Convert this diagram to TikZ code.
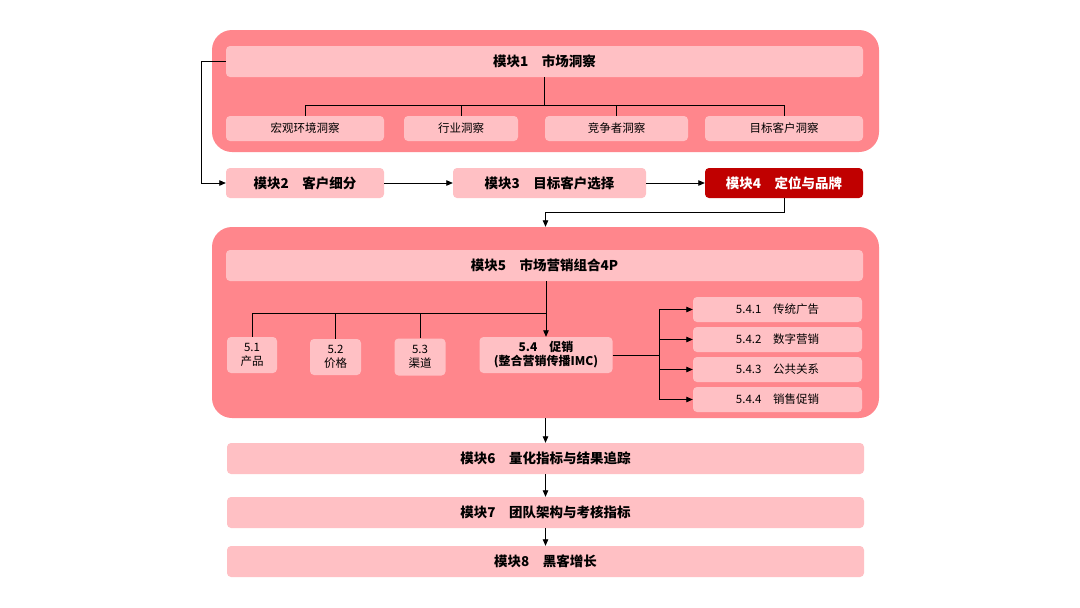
\documentclass[tikz,border=0pt]{standalone}
\usepackage{fontspec}
\newfontfamily\cjk{Noto Sans CJK SC}
\usetikzlibrary{arrows.meta}
\definecolor{outerc}{RGB}{255,134,140}
\definecolor{innerc}{RGB}{255,192,196}
\definecolor{darkc}{RGB}{192,0,0}
\tikzset{
  outerbox/.style={draw=none,fill=outerc,rounded corners=20pt,inner sep=0pt},
  bar/.style={draw=none,fill=innerc,rounded corners=4pt,inner sep=0pt,align=center,font=\cjk\bfseries\fontsize{13.5}{15}\selectfont,text=black},
  sub/.style={draw=none,fill=innerc,rounded corners=4pt,inner sep=0pt,align=center,font=\cjk\fontsize{11.5}{13.5}\selectfont,text=black},
  darkbar/.style={bar,fill=darkc,text=white},
  ln/.style={draw=black,line width=0.8pt},
  arr/.style={ln,-{Triangle[length=6.5pt,width=5.5pt]}}
}
\begin{document}
\begin{tikzpicture}[x=1pt,y=-1pt]
\useasboundingbox[fill=white] (0,0) rectangle (1080,608);
% Module 1
\node[outerbox,minimum width=667pt,minimum height=122pt] (outer1) at (545.5,91) {};
\node[bar,minimum width=637pt,minimum height=31pt] (m1) at (544.5,61.5) {模块1\quad 市场洞察};
\node[sub,minimum width=158pt,minimum height=25pt] (s1) at (305,128.5) {宏观环境洞察};
\node[sub,minimum width=114pt,minimum height=25pt] (s2) at (461,128.5) {行业洞察};
\node[sub,minimum width=143pt,minimum height=25pt] (s3) at (616.5,128.5) {竞争者洞察};
\node[sub,minimum width=158pt,minimum height=25pt] (s4) at (784,128.5) {目标客户洞察};
\coordinate (b1) at (544.5,105);
\draw[ln] (m1.south -| b1) -- (b1);
\draw[ln] (s1.north |- b1) -- (s4.north |- b1);
\foreach \s in {s1,s2,s3,s4} \draw[ln] (\s.north |- b1) -- (\s.north);
% Row 2
\node[bar,minimum width=158pt,minimum height=30pt] (m2) at (305,183) {模块2\quad 客户细分};
\node[bar,minimum width=193pt,minimum height=30pt] (m3) at (549.5,183) {模块3\quad 目标客户选择};
\node[darkbar,minimum width=158pt,minimum height=30pt] (m4) at (784,183) {模块4\quad 定位与品牌};
\coordinate (lft) at (201,61.5);
\draw[arr] (m1.west) -- (lft) -- (lft |- m2.west) -- (m2.west);
\draw[arr] (m2.east) -- (m3.west);
\draw[arr] (m3.east) -- (m4.west);
% Module 5
\node[outerbox,minimum width=667pt,minimum height=191pt] (outer5) at (545.5,322.5) {};
\coordinate (t4) at (545.5,212);
\draw[arr] (m4.south) -- (m4.south |- t4) -- (t4) -- (outer5.north);
\node[bar,minimum width=637pt,minimum height=31pt] (m5) at (544.5,265.5) {模块5\quad 市场营销组合4P};
\node[sub,minimum width=50pt,minimum height=36pt] (p1) at (252,355) {5.1\\产品};
\node[sub,minimum width=51pt,minimum height=36pt] (p2) at (335.5,357) {5.2\\价格};
\node[sub,minimum width=51pt,minimum height=37pt] (p3) at (420,357) {5.3\\渠道};
\node[bar,minimum width=133pt,minimum height=36pt,font=\cjk\bfseries\fontsize{12}{14}\selectfont] (p4) at (546,355) {5.4\quad 促销\\(整合营销传播IMC)};
\coordinate (b5) at (546,313);
\draw[arr] (p4.north |- m5.south) -- (p4.north);
\draw[ln] (p1.north |- b5) -- (b5);
\foreach \s in {p1,p2,p3} \draw[ln] (\s.north |- b5) -- (\s.north);
\node[sub,minimum width=169pt,minimum height=25pt] (q1) at (777.5,309.5) {5.4.1\quad 传统广告};
\node[sub,minimum width=169pt,minimum height=25pt] (q2) at (777.5,339.5) {5.4.2\quad 数字营销};
\node[sub,minimum width=169pt,minimum height=25pt] (q3) at (777.5,369.5) {5.4.3\quad 公共关系};
\node[sub,minimum width=169pt,minimum height=25pt] (q4) at (777.5,399.5) {5.4.4\quad 销售促销};
\coordinate (bus) at (659,355);
\draw[ln] (p4.east) -- (p4.east -| bus);
\draw[ln] (bus |- q1.west) -- (bus |- q4.west);
\foreach \s in {q1,q2,q3,q4} \draw[arr] (bus |- \s.west) -- (\s.west);
% Modules 6-8
\node[bar,minimum width=637pt,minimum height=31pt] (m6) at (545.5,458.5) {模块6\quad 量化指标与结果追踪};
\node[bar,minimum width=637pt,minimum height=31pt] (m7) at (545.5,512.5) {模块7\quad 团队架构与考核指标};
\node[bar,minimum width=637pt,minimum height=31pt] (m8) at (545.5,561.5) {模块8\quad 黑客增长};
\draw[arr] (outer5.south) -- (m6.north);
\draw[arr] (m6.south) -- (m7.north);
\draw[arr] (m7.south) -- (m8.north);
\end{tikzpicture}
\end{document}
